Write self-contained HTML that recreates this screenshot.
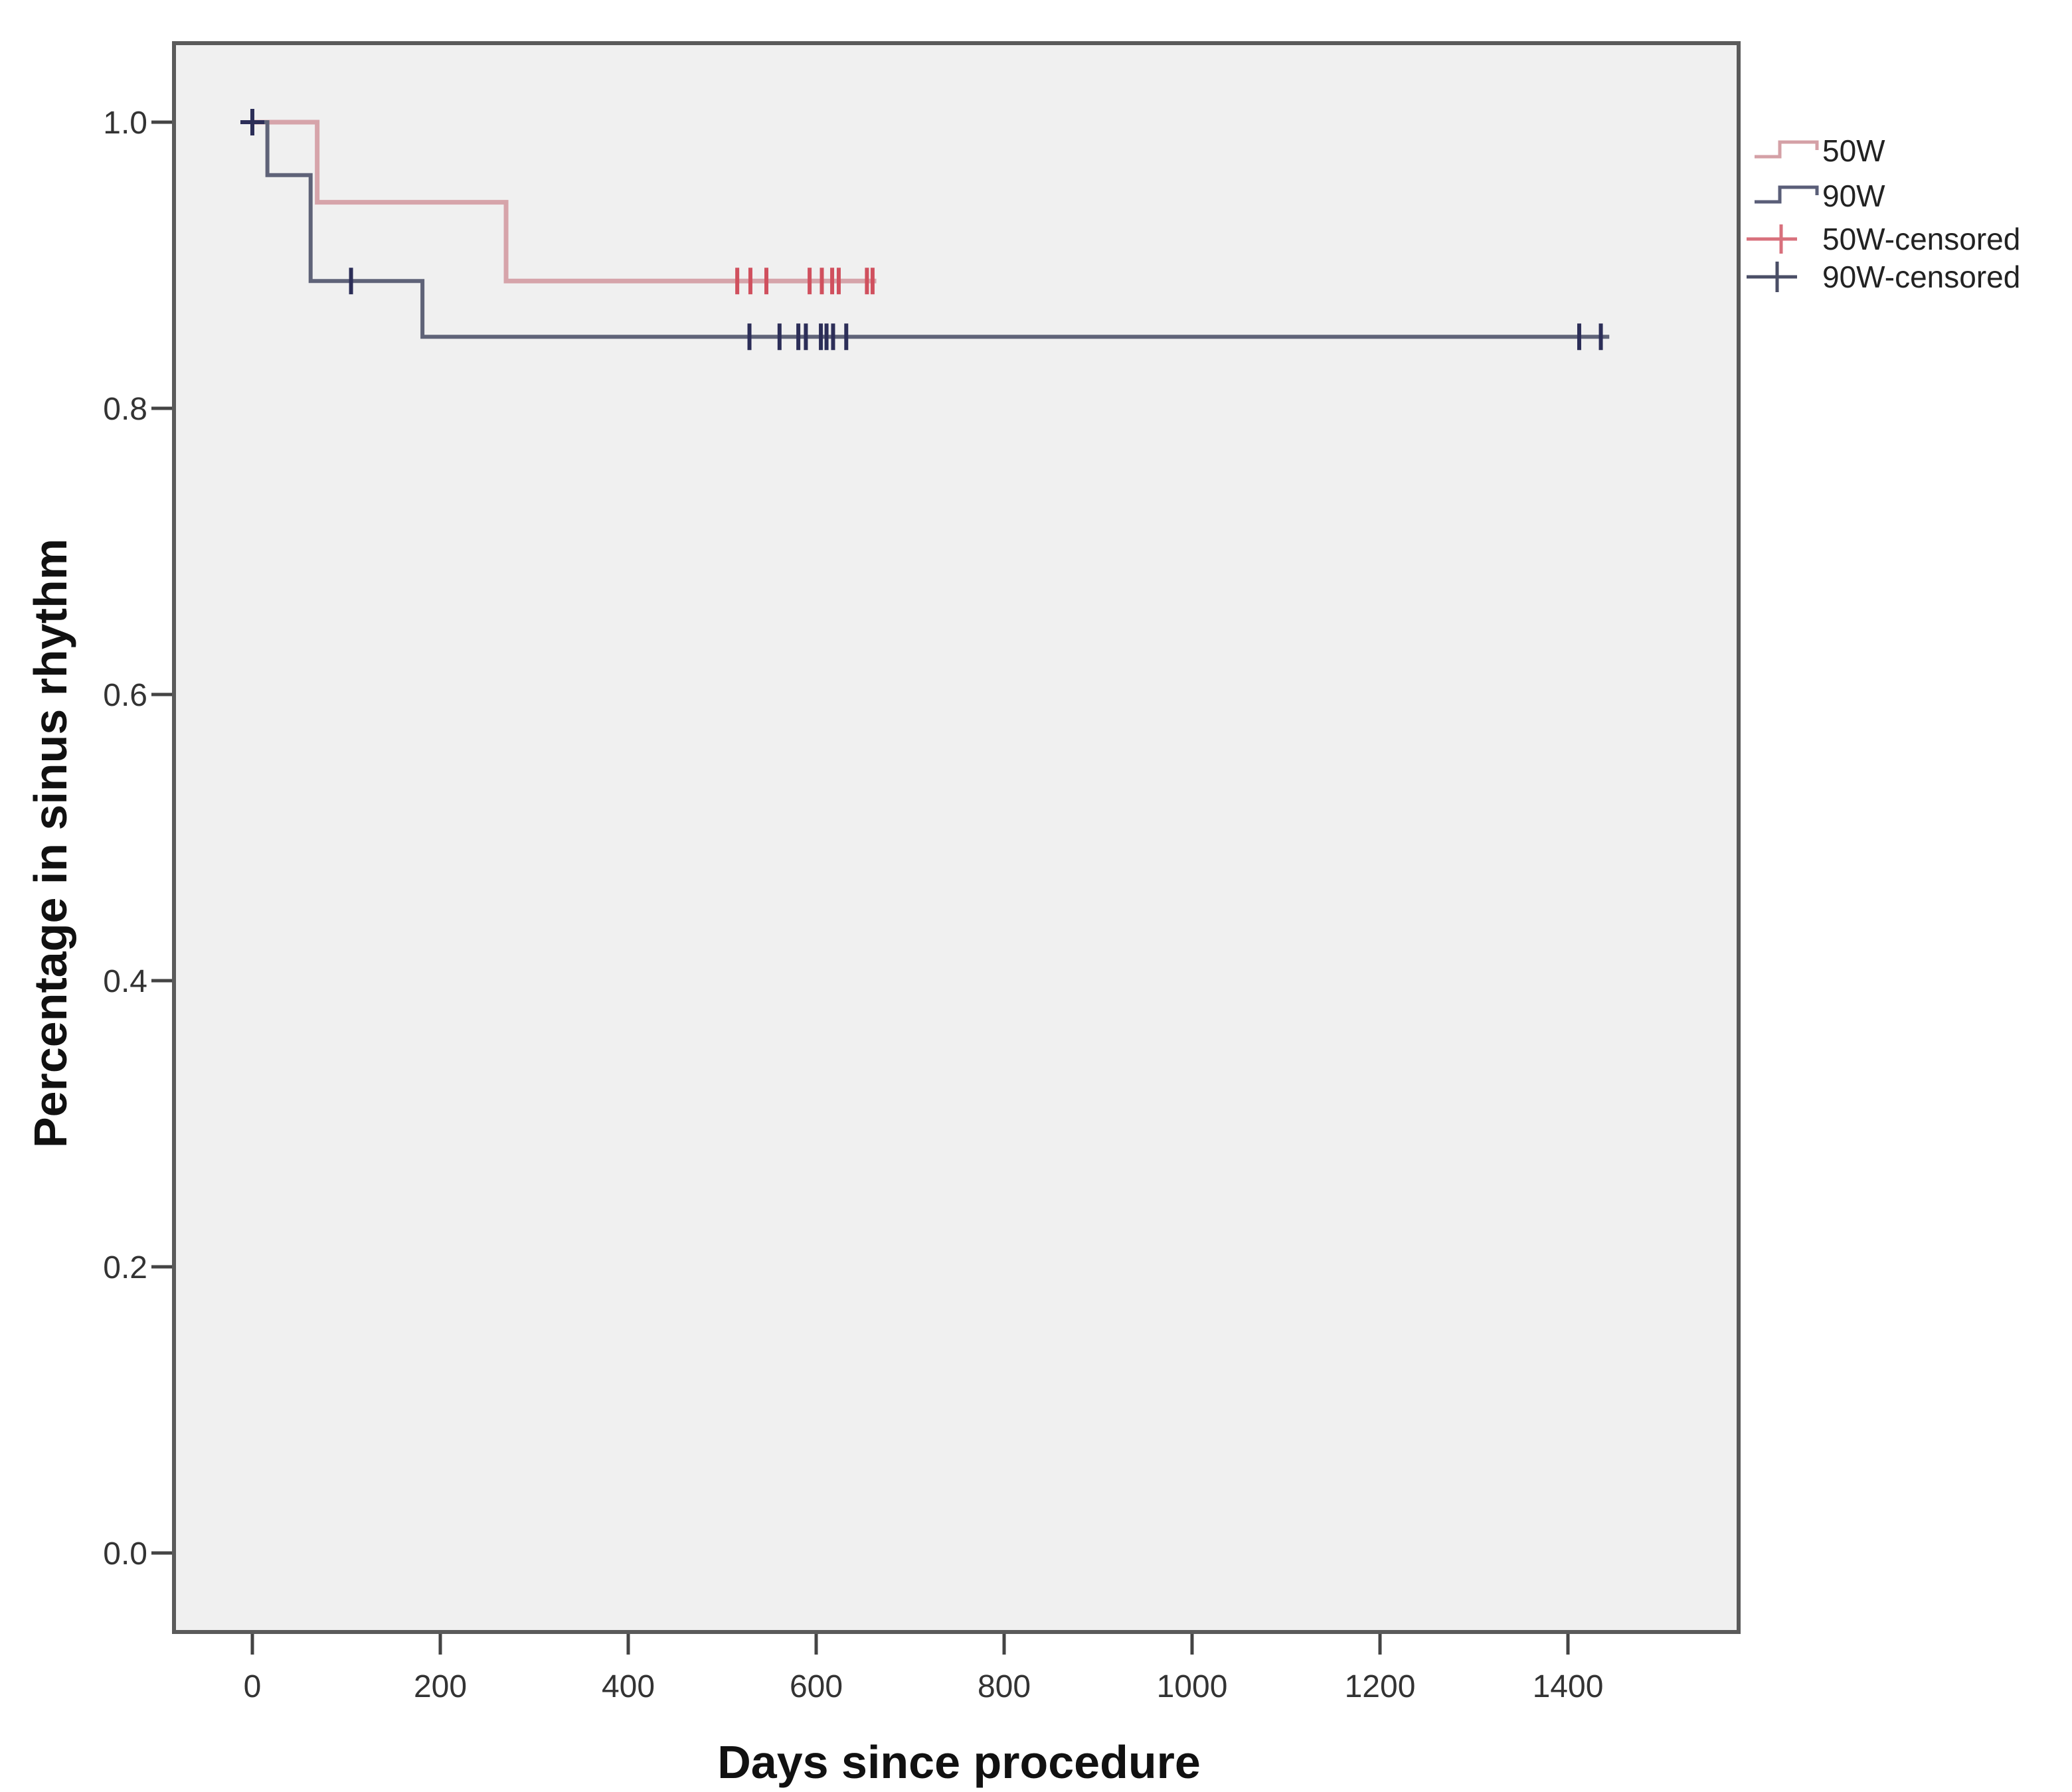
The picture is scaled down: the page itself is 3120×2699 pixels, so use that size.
<!DOCTYPE html>
<html><head><meta charset="utf-8"><style>
html,body{margin:0;padding:0;background:#fff;}
svg{display:block;font-family:"Liberation Sans",sans-serif;}
</style></head><body>
<svg id="chart" width="3120" height="2699" viewBox="0 0 3120 2699" xmlns="http://www.w3.org/2000/svg">
<rect x="262" y="65" width="2356" height="2393" fill="#f0f0f0"/>
<g id="axes"></g>
<g id="series"></g>
<rect x="262" y="65" width="2356" height="2393" fill="none" stroke="#5a5a5a" stroke-width="6"/>
<text x="1444" y="2678" font-size="70" font-weight="bold" text-anchor="middle" fill="#111">Days since procedure</text>
<text transform="translate(100,1270) rotate(-90)" font-size="70" font-weight="bold" text-anchor="middle" fill="#111">Percentage in sinus rhythm</text>
<g id="legend">
 <g>
  <path d="M2642 236 H2680 V214 H2736 V226" fill="none" stroke="#d4a0a6" stroke-width="5"/>
  <text x="2744" y="243" font-size="46" fill="#222">50W</text>
 </g>
 <g>
  <path d="M2642 304 H2680 V282 H2736 V294" fill="none" stroke="#5a5e78" stroke-width="5"/>
  <text x="2744" y="311" font-size="46" fill="#222">90W</text>
 </g>
 <g>
  <path d="M2630 360 H2706 M2682 338 V382" fill="none" stroke="#d8707c" stroke-width="5"/>
  <text x="2744" y="376" font-size="46" fill="#222">50W-censored</text>
 </g>
 <g>
  <path d="M2630 417 H2706 M2676 394 V440" fill="none" stroke="#4a4e66" stroke-width="5"/>
  <text x="2744" y="433" font-size="46" fill="#222">90W-censored</text>
 </g>
</g>
</svg>
<script>
const xTicks = [0,200,400,600,800,1000,1200,1400];
const yTicks = [0.0,0.2,0.4,0.6,0.8,1.0];
const yTickLabels = ["0.0","0.2","0.4","0.6","0.8","1.0"];
const times50 = [0,69,270,664];
const surv50 = [1.0,0.944,0.889,0.889];
const censor50Days = [516,530,547,593,606,617,624,654,660];
const censor50Surv = [0.889,0.889,0.889,0.889,0.889,0.889,0.889,0.889,0.889];
const times90 = [0,16,62,181,1444];
const surv90 = [1.0,0.963,0.889,0.85,0.85];
const censor90Days = [0,105,529,561,581,589,605,611,618,632,1412,1435];
const censor90Surv = [1.0,0.889,0.85,0.85,0.85,0.85,0.85,0.85,0.85,0.85,0.85,0.85];

const NS="http://www.w3.org/2000/svg";
const X = d => 380 + d*(2361-380)/1400;
const Y = v => 2339 - v*(2339-184);
const axes=document.getElementById('axes');
const ser=document.getElementById('series');
function mk(tag,attrs,parent){const e=document.createElementNS(NS,tag);for(const k in attrs)e.setAttribute(k,attrs[k]);parent.appendChild(e);return e;}
xTicks.forEach(t=>{
  const l=mk('line',{x1:X(t),x2:X(t),y1:2458,y2:2492,stroke:'#444','stroke-width':5},axes);
  
  
  const tx=mk('text',{x:X(t),y:2556,'font-size':48,'text-anchor':'middle',fill:'#333'},axes);
  tx.textContent=String(t);
  
  
});
yTicks.forEach((t,i)=>{
  const l=mk('line',{x1:228,x2:262,y1:Y(t),y2:Y(t),stroke:'#444','stroke-width':5},axes);
  
  
  const tx=mk('text',{x:222,y:Y(t)+17,'font-size':48,'text-anchor':'end',fill:'#333'},axes);
  tx.textContent=yTickLabels[i];
  
  
});
function stepPath(ts,vs){
  let d='M'+X(ts[0])+' '+Y(vs[0]);
  for(let i=1;i<ts.length;i++){d+=' H'+X(ts[i])+' V'+Y(vs[i]);}
  return d;
}
const p50=mk('path',{d:stepPath(times50,surv50),fill:'none',stroke:'#d6a4aa','stroke-width':7},ser);


const p90=mk('path',{d:stepPath(times90,surv90),fill:'none',stroke:'#5f6378','stroke-width':6},ser);


censor50Days.forEach((d,i)=>{
  const m=mk('line',{x1:X(d),x2:X(d),y1:Y(censor50Surv[i])-20,y2:Y(censor50Surv[i])+20,stroke:'#d0505e','stroke-width':6},ser);
  
  
});
censor90Days.forEach((d,i)=>{
  const m=mk('line',{x1:X(d),x2:X(d),y1:Y(censor90Surv[i])-20,y2:Y(censor90Surv[i])+20,stroke:'#2c2e58','stroke-width':6},ser);
  
  
});
const h0=mk('line',{x1:X(0)-18,x2:X(0)+18,y1:Y(1),y2:Y(1),stroke:'#2c2e58','stroke-width':6},ser);


</script>
</body></html>
